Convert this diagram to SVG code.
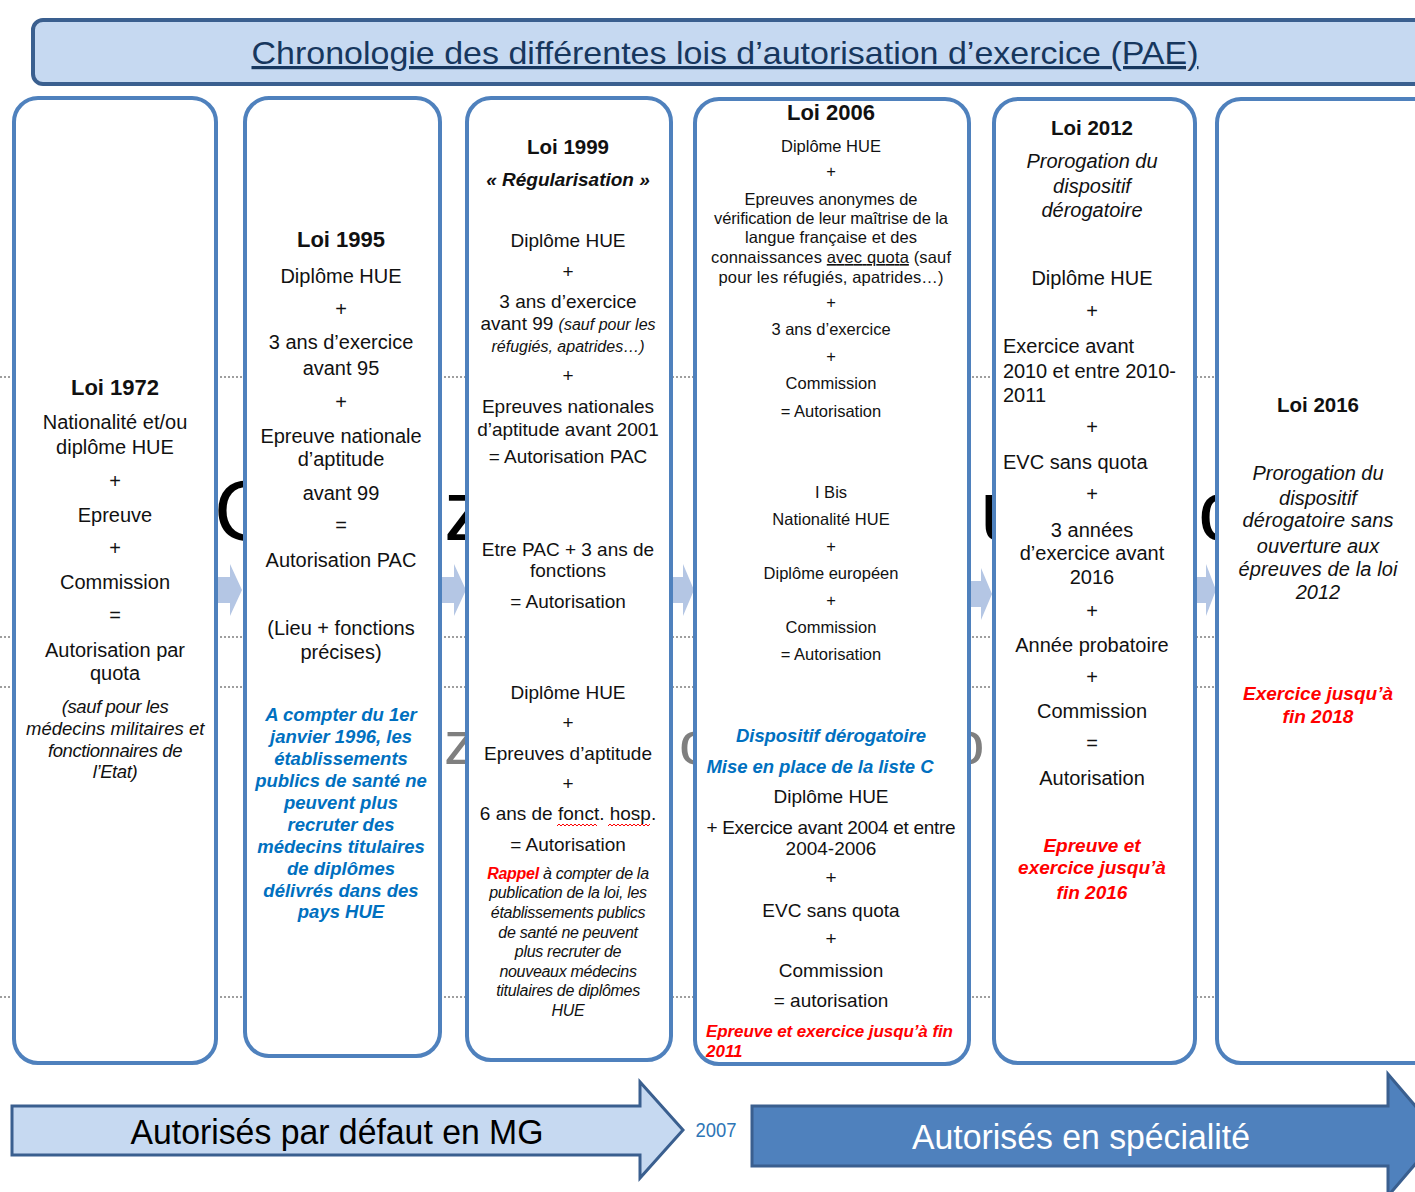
<svg xmlns="http://www.w3.org/2000/svg" width="1415" height="1192" viewBox="0 0 1415 1192">
<style>
text{font-family:"Liberation Sans",Arial,sans-serif;fill:#111;text-anchor:middle}
.b{font-weight:bold}
.i{font-style:italic}
.bl{fill:#0070c0;font-weight:bold;font-style:italic}
.rd{fill:#ff0000;font-weight:bold;font-style:italic}
.s20{font-size:20px}
.s19{font-size:19px}
.s18{font-size:18.5px}
.s16{font-size:16.5px}
.lft{text-anchor:start}
.box{fill:#fff;stroke:#4f81bd;stroke-width:4}
.chev{fill:#b4c6e4}
.dot{stroke:#7f7f7f;stroke-width:1.5;stroke-dasharray:2 2}
.bg{font-size:86px;fill:#000;text-anchor:start}
.bgg{font-size:62px;fill:#7f7f7f;text-anchor:start}
</style>

<!-- title -->
<g id="title">
<rect x="33" y="20" width="1400" height="64" rx="10" fill="#c6d9f1" stroke="#3a5f8f" stroke-width="4"/>
<text x="725" y="64" font-size="32" style="fill:#17375e;text-decoration:underline" textLength="947" lengthAdjust="spacingAndGlyphs">Chronologie des différentes lois d’autorisation d’exercice (PAE)</text>
</g>

<!-- background fragments -->
<g id="background">
<text class="bg" x="214" y="540">C</text>
<text class="bg" x="444" y="540">z</text>
<text class="bg" x="980" y="540">u</text>
<text class="bg" x="1198" y="540">c</text>
<text class="bgg" x="444" y="764">z</text>
<text class="bgg" x="679" y="764">o</text>
<text class="bgg" x="950" y="764">o</text>
<line class="dot" x1="0" y1="377" x2="1415" y2="377"/>
<line class="dot" x1="0" y1="637" x2="1415" y2="637"/>
<line class="dot" x1="0" y1="687" x2="1415" y2="687"/>
<line class="dot" x1="0" y1="997" x2="1415" y2="997"/>
</g>

<!-- connectors (chevrons between columns) -->
<g id="connectors">
<path class="chev" d="M217,577 h13 v-13 l12,26 l-12,26 v-13 h-13 z"/>
<path class="chev" d="M441,577 h13 v-13 l12,26 l-12,26 v-13 h-13 z"/>
<path class="chev" d="M671,577 h12 v-13 l11,26 l-11,26 v-13 h-12 z"/>
<path class="chev" d="M969,581 h12 v-13 l11,26 l-11,26 v-13 h-12 z"/>
<path class="chev" d="M1196,577 h10 v-13 l10,26 l-10,26 v-13 h-10 z"/>
</g>

<!-- Loi 1972 -->
<g id="loi1972">
<rect class="box" x="14" y="98" width="202" height="965" rx="24"/>
<text class="b" x="115" y="395" font-size="22">Loi 1972</text>
<text class="s20" x="115" y="429">Nationalité  et/ou</text>
<text class="s20" x="115" y="454">diplôme HUE</text>
<text class="s20" x="115" y="488">+</text>
<text class="s20" x="115" y="522">Epreuve</text>
<text class="s20" x="115" y="555">+</text>
<text class="s20" x="115" y="589">Commission</text>
<text class="s20" x="115" y="622">=</text>
<text class="s20" x="115" y="657">Autorisation  par</text>
<text class="s20" x="115" y="680">quota</text>
<text class="i" x="115" y="713" font-size="18.5" letter-spacing="-0.4">(sauf pour les</text>
<text class="i" x="115" y="735" font-size="18.5" letter-spacing="-0.4" textLength="178">médecins militaires et</text>
<text class="i" x="115" y="757" font-size="18.5" letter-spacing="-0.4">fonctionnaires de</text>
<text class="i" x="115" y="778" font-size="18.5" letter-spacing="-0.4">l’Etat)</text>
</g>

<!-- Loi 1995 -->
<g id="loi1995">
<rect class="box" x="245" y="98" width="195" height="958" rx="24"/>
<text class="b" x="341" y="247" font-size="22">Loi 1995</text>
<text class="s20" x="341" y="283">Diplôme HUE</text>
<text class="s20" x="341" y="316">+</text>
<text class="s20" x="341" y="349">3 ans d’exercice</text>
<text class="s20" x="341" y="375">avant  95</text>
<text class="s20" x="341" y="409">+</text>
<text class="s20" x="341" y="443">Epreuve  nationale</text>
<text class="s20" x="341" y="466">d’aptitude</text>
<text class="s20" x="341" y="500">avant  99</text>
<text class="s20" x="341" y="532">=</text>
<text class="s20" x="341" y="567">Autorisation PAC</text>
<text class="s20" x="341" y="635">(Lieu  + fonctions</text>
<text class="s20" x="341" y="659">précises)</text>
<text class="bl s18" x="341" y="721">A compter du 1er</text>
<text class="bl s18" x="341" y="743">janvier 1996, les</text>
<text class="bl s18" x="341" y="765">établissements</text>
<text class="bl s18" x="341" y="787">publics de santé ne</text>
<text class="bl s18" x="341" y="809">peuvent plus</text>
<text class="bl s18" x="341" y="831">recruter des</text>
<text class="bl s18" x="341" y="853">médecins titulaires</text>
<text class="bl s18" x="341" y="875">de diplômes</text>
<text class="bl s18" x="341" y="897">délivrés dans des</text>
<text class="bl s18" x="341" y="918">pays HUE</text>
</g>

<!-- Loi 1999 -->
<g id="loi1999">
<rect class="box" x="467" y="98" width="204" height="962" rx="24"/>
<text class="b" x="568" y="154" font-size="20.5">Loi 1999</text>
<text class="b i" x="568" y="186" font-size="19">« Régularisation »</text>
<text class="s19" x="568" y="247">Diplôme HUE</text>
<text class="s19" x="568" y="278">+</text>
<text class="s19" x="568" y="308">3 ans d’exercice</text>
<text class="s19" x="568" y="330">avant 99 <tspan class="i" font-size="16">(sauf pour les</tspan></text>
<text class="i" x="568" y="352" font-size="16">réfugiés, apatrides…)</text>
<text class="s19" x="568" y="382">+</text>
<text class="s19" x="568" y="413">Epreuves nationales</text>
<text class="s19" x="568" y="436">d’aptitude avant 2001</text>
<text class="s19" x="568" y="463">= Autorisation PAC</text>
<text class="s19" x="568" y="556">Etre PAC + 3 ans de</text>
<text class="s19" x="568" y="577">fonctions</text>
<text class="s19" x="568" y="608">=  Autorisation</text>
<text class="s19" x="568" y="699">Diplôme HUE</text>
<text class="s19" x="568" y="729">+</text>
<text class="s19" x="568" y="760">Epreuves d’aptitude</text>
<text class="s19" x="568" y="790">+</text>
<text class="s19" x="568" y="820">6 ans de fonct. hosp.</text>
<path d="M557,826 l2,-2 l2,2 l2,-2 l2,2 l2,-2 l2,2 l2,-2 l2,2 l2,-2 l2,2 l2,-2 l2,2 l2,-2 l2,2 l2,-2 l2,2 l2,-2 l2,2 l2,-2 l2,2 M608,826 l2,-2 l2,2 l2,-2 l2,2 l2,-2 l2,2 l2,-2 l2,2 l2,-2 l2,2 l2,-2 l2,2 l2,-2 l2,2 l2,-2 l2,2 l2,-2 l2,2 l2,-2 l2,2 l2,-2" fill="none" stroke="#ff0000" stroke-width="1"/>
<text class="s19" x="568" y="851">= Autorisation</text>
<text class="i" x="568" y="879" font-size="16" letter-spacing="-0.3"><tspan class="rd">Rappel</tspan> à compter de la</text>
<text class="i" x="568" y="898" font-size="16" letter-spacing="-0.3">publication de la loi, les</text>
<text class="i" x="568" y="918" font-size="16" letter-spacing="-0.3">établissements publics</text>
<text class="i" x="568" y="938" font-size="16" letter-spacing="-0.3">de santé ne peuvent</text>
<text class="i" x="568" y="957" font-size="16" letter-spacing="-0.3">plus recruter de</text>
<text class="i" x="568" y="977" font-size="16" letter-spacing="-0.3">nouveaux  médecins</text>
<text class="i" x="568" y="996" font-size="16" letter-spacing="-0.3">titulaires de diplômes</text>
<text class="i" x="568" y="1016" font-size="16" letter-spacing="-0.3">HUE</text>
</g>

<!-- Loi 2006 -->
<g id="loi2006">
<rect class="box" x="695" y="99" width="274" height="965" rx="24"/>
<text class="b" x="831" y="120" font-size="22">Loi 2006</text>
<text class="s16" x="831" y="152">Diplôme  HUE</text>
<text class="s16" x="831" y="177">+</text>
<text class="s16" x="831" y="205" textLength="173">Epreuves anonymes de</text>
<text class="s16" x="831" y="224" textLength="234">vérification de leur maîtrise  de la</text>
<text class="s16" x="831" y="243" textLength="172">langue  française et des</text>
<text class="s16" x="831" y="263" textLength="240">connaissances <tspan style="text-decoration:underline">avec quota</tspan> (sauf</text>
<text class="s16" x="831" y="283" textLength="225">pour les réfugiés, apatrides…)</text>
<text class="s16" x="831" y="308">+</text>
<text class="s16" x="831" y="335">3 ans d’exercice</text>
<text class="s16" x="831" y="362">+</text>
<text class="s16" x="831" y="389">Commission</text>
<text class="s16" x="831" y="417">= Autorisation</text>
<text class="s16" x="831" y="498">I Bis</text>
<text class="s16" x="831" y="525">Nationalité  HUE</text>
<text class="s16" x="831" y="552">+</text>
<text class="s16" x="831" y="579">Diplôme  européen</text>
<text class="s16" x="831" y="606">+</text>
<text class="s16" x="831" y="633">Commission</text>
<text class="s16" x="831" y="660">= Autorisation</text>
<text class="bl s18" x="831" y="742" textLength="190">Dispositif dérogatoire</text>
<text class="bl s18" x="820" y="773" textLength="227">Mise en place de la liste C</text>
<text class="s19" x="831" y="803">Diplôme HUE</text>
<text class="s19" x="831" y="834" textLength="249">+ Exercice  avant 2004 et entre</text>
<text class="s19" x="831" y="855">2004-2006</text>
<text class="s19" x="831" y="884">+</text>
<text class="s19" x="831" y="917">EVC  sans quota</text>
<text class="s19" x="831" y="945">+</text>
<text class="s19" x="831" y="977">Commission</text>
<text class="s19" x="831" y="1007">= autorisation</text>
<text class="rd lft" x="706" y="1037" font-size="17" textLength="247">Epreuve et exercice jusqu’à fin</text>
<text class="rd lft" x="706" y="1057" font-size="17">2011</text>
</g>

<!-- Loi 2012 -->
<g id="loi2012">
<rect class="box" x="994" y="99" width="201" height="964" rx="24"/>
<text class="b" x="1092" y="135" font-size="20.5">Loi 2012</text>
<text class="i s20" x="1092" y="168">Prorogation  du</text>
<text class="i s20" x="1092" y="193">dispositif</text>
<text class="i s20" x="1092" y="217">dérogatoire</text>
<text class="s20" x="1092" y="285">Diplôme HUE</text>
<text class="s20" x="1092" y="318">+</text>
<text class="s20 lft" x="1003" y="353">Exercice avant</text>
<text class="s20 lft" x="1003" y="378" textLength="173">2010  et  entre 2010-</text>
<text class="s20 lft" x="1003" y="402">2011</text>
<text class="s20" x="1092" y="434">+</text>
<text class="s20 lft" x="1003" y="469">EVC sans quota</text>
<text class="s20" x="1092" y="501">+</text>
<text class="s20" x="1092" y="537">3 années</text>
<text class="s20" x="1092" y="560">d’exercice avant</text>
<text class="s20" x="1092" y="584">2016</text>
<text class="s20" x="1092" y="618">+</text>
<text class="s20" x="1092" y="652">Année  probatoire</text>
<text class="s20" x="1092" y="684">+</text>
<text class="s20" x="1092" y="718">Commission</text>
<text class="s20" x="1092" y="750">=</text>
<text class="s20" x="1092" y="785">Autorisation</text>
<text class="rd s19" x="1092" y="852">Epreuve  et</text>
<text class="rd s19" x="1092" y="874">exercice  jusqu’à</text>
<text class="rd s19" x="1092" y="899">fin 2016</text>
</g>

<!-- Loi 2016 -->
<g id="loi2016">
<rect class="box" x="1217" y="99" width="230" height="964" rx="24"/>
<text class="b" x="1318" y="412" font-size="20.5">Loi 2016</text>
<text class="i s20" x="1318" y="480">Prorogation  du</text>
<text class="i s20" x="1318" y="505">dispositif</text>
<text class="i s20" x="1318" y="527" textLength="151">dérogatoire  sans</text>
<text class="i s20" x="1318" y="553">ouverture  aux</text>
<text class="i s20" x="1318" y="576" textLength="159">épreuves  de la loi</text>
<text class="i s20" x="1318" y="599">2012</text>
<text class="rd s19" x="1318" y="700">Exercice jusqu’à</text>
<text class="rd s19" x="1318" y="723">fin 2018</text>
</g>

<!-- bottom arrows -->
<g id="arrow-mg">
<path d="M12,1106 H640 V1082 L683,1130 L640,1178 V1155 H12 Z" fill="#c6d9f1" stroke="#3a5f8f" stroke-width="3"/>
<text x="337" y="1144" font-size="35" style="fill:#000" textLength="413" lengthAdjust="spacingAndGlyphs">Autorisés par défaut en MG</text>
</g>
<g id="label-2007">
<text x="716" y="1137" font-size="21" style="fill:#2e75b6" textLength="41" lengthAdjust="spacingAndGlyphs">2007</text>
</g>
<g id="arrow-spec">
<path d="M752,1106 H1388 V1074 L1440,1135 L1388,1196 V1166 H752 Z" fill="#4f81bd" stroke="#3a5f8f" stroke-width="3"/>
<text x="1081" y="1149" font-size="35" style="fill:#fff" textLength="338" lengthAdjust="spacingAndGlyphs">Autorisés en spécialité</text>
</g>
</svg>
